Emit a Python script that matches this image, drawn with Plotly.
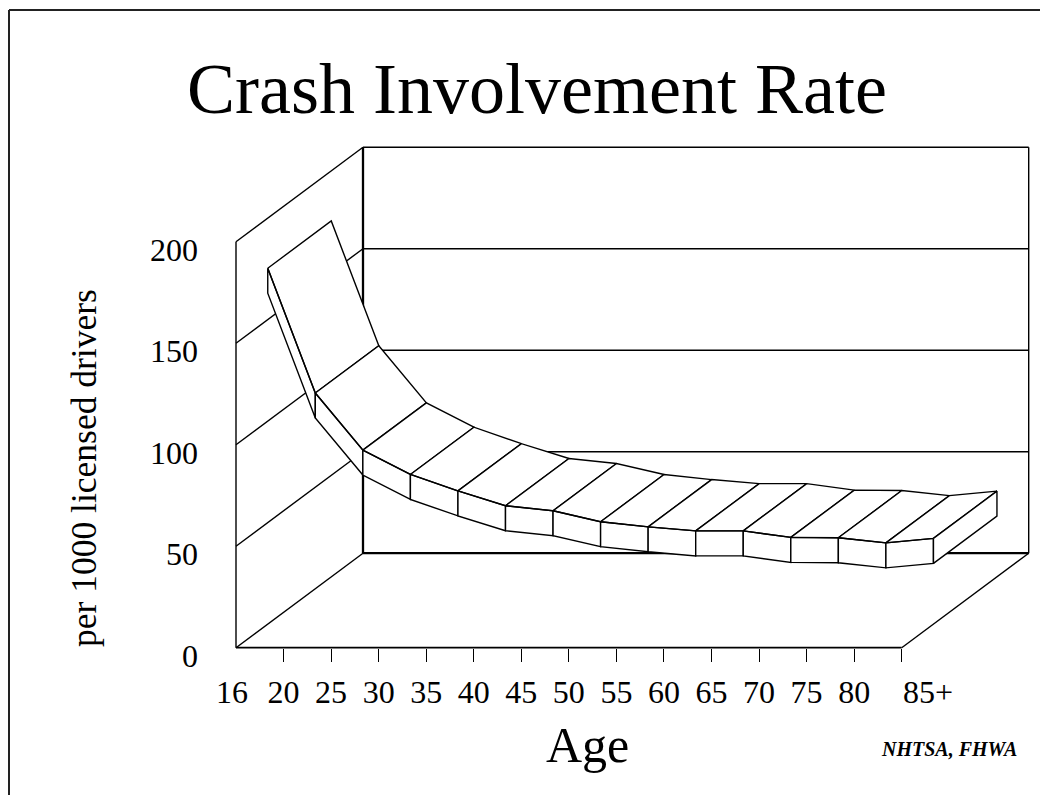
import plotly.graph_objects as go

# ---------------- data ----------------
ages = ["16", "20", "25", "30", "35", "40", "45", "50", "55", "60", "65", "70", "75", "80", "85+"]
rates = [175.3, 113.8, 85.7, 73.7, 65.6, 58.3, 55.8, 50.4, 47.9, 45.9, 45.9, 42.7, 42.5, 40.0, 42.2]
y_ticks = [0, 50, 100, 150, 200]
y_max = 200

# ---------------- geometry / style ----------------
W, H = 1048, 795
OFF = 8                       # page offset of the figure inside the html body
X0, XSTEP = 236.0 - OFF, 47.55   # figure pixel of first category, pixels per category
Y0, YSCALE = 647.7 - OFF, 2.03   # figure pixel of value 0, pixels per value unit
DEPTH_PX = (127.0, 94.5)      # oblique offset of the back wall (px right, px up)
RIB_FRONT, RIB_BACK = 0.25, 0.75   # depth fractions of the ribbon
RIB_THICK = 12.3                   # ribbon front-face height (value units)
FONT = "Liberation Serif, Times New Roman, serif"
LW = 1.4

xr = [-X0 / XSTEP, (W - X0) / XSTEP]
yr = [-(H - Y0) / YSCALE, Y0 / YSCALE]
DX = DEPTH_PX[0] / XSTEP
DY = DEPTH_PX[1] / YSCALE
n = len(ages) - 1


def paper_x(page_px):
    return (page_px - OFF) / W


def paper_y(page_py):
    return 1 - (page_py - OFF) / H


def proj(i, v, f):
    return i + f * DX, v + f * DY


def add_segments(xs, ys, pts):
    for p in pts:
        x, y = proj(*p)
        xs.append(x)
        ys.append(y)
    xs.append(None)
    ys.append(None)


fig = go.Figure()

# ---- walls and gridlines ----
wx, wy = [], []
add_segments(wx, wy, [(0, 0, 0), (0, y_max, 0)])
for v in y_ticks:
    add_segments(wx, wy, [(0, v, 0), (0, v, 1)])
for v in y_ticks[1:]:
    add_segments(wx, wy, [(0, v, 1), (n, v, 1)])
add_segments(wx, wy, [(n, 0, 1), (n, y_max, 1)])
add_segments(wx, wy, [(n, 0, 0), (n, 0, 1)])
fig.add_trace(go.Scatter(x=wx, y=wy, mode="lines", line=dict(color="black", width=LW),
                         hoverinfo="skip", showlegend=False))

tx, ty = [], []
add_segments(tx, ty, [(0, 0, 1), (0, y_max, 1)])
add_segments(tx, ty, [(0, 0, 1), (n, 0, 1)])
fig.add_trace(go.Scatter(x=tx, y=ty, mode="lines", line=dict(color="black", width=2.3),
                         hoverinfo="skip", showlegend=False))

# front floor edge (on the tick axis)
fx, fy = [], []
add_segments(fx, fy, [(0, 0, 0), (n, 0, 0)])
fig.add_trace(go.Scatter(x=fx, y=fy, mode="lines", line=dict(color="black", width=1.7),
                         xaxis="x2", hoverinfo="skip", showlegend=False))

# ---- ribbon ----
for k in range(n):
    a, b = rates[k], rates[k + 1]
    rx, ry = [], []
    # top face
    add_segments(rx, ry, [(k, a, RIB_FRONT), (k + 1, b, RIB_FRONT), (k + 1, b, RIB_BACK),
                          (k, a, RIB_BACK), (k, a, RIB_FRONT)])
    # front face
    add_segments(rx, ry, [(k, a, RIB_FRONT), (k + 1, b, RIB_FRONT), (k + 1, b - RIB_THICK, RIB_FRONT),
                          (k, a - RIB_THICK, RIB_FRONT), (k, a, RIB_FRONT)])
    fig.add_trace(go.Scatter(x=rx[:-1], y=ry[:-1], mode="lines", fill="toself", fillcolor="white",
                             line=dict(color="black", width=LW), hoverinfo="skip", showlegend=False))

# right end cap
c = rates[n]
ex, ey = [], []
add_segments(ex, ey, [(n, c, RIB_FRONT), (n, c, RIB_BACK), (n, c - RIB_THICK, RIB_BACK),
                      (n, c - RIB_THICK, RIB_FRONT), (n, c, RIB_FRONT)])
fig.add_trace(go.Scatter(x=ex[:-1], y=ey[:-1], mode="lines", fill="toself", fillcolor="white",
                         line=dict(color="black", width=LW), hoverinfo="skip", showlegend=False))

axis_pos_y = (H - Y0) / H
axis_pos_x = X0 / W

fig.update_layout(
    width=W, height=H,
    margin=dict(l=0, r=0, t=0, b=0, pad=0),
    paper_bgcolor="white", plot_bgcolor="white",
    showlegend=False,
    font=dict(family=FONT, color="black"),
    title=dict(text="Crash Involvement Rate", x=paper_x(529 + OFF), xanchor="center",
               y=paper_y(79.5 + OFF), yanchor="middle", yref="container",
               font=dict(family=FONT, size=72, color="black")),
    xaxis=dict(range=xr, anchor="free", position=axis_pos_y, showgrid=False, zeroline=False,
               showline=False, ticks="", tickmode="array", tickvals=list(range(n)),
               ticktext=["16\u00a0"] + ages[1:n],
               tickangle=0,
               tickfont=dict(family=FONT, size=32, color="black"), ticklabelstandoff=22),
    xaxis2=dict(range=xr, overlaying="x", anchor="free", position=axis_pos_y, showgrid=False,
                zeroline=False, showline=False, ticks="outside", ticklen=13, tickwidth=1.4,
                tickcolor="black", tickmode="array", tickvals=list(range(1, len(ages))),
                showticklabels=False),
    yaxis=dict(range=yr, anchor="free", position=axis_pos_x, showgrid=False, zeroline=False,
               showline=False, ticks="", tickmode="array", tickvals=y_ticks,
               tickfont=dict(family=FONT, size=32, color="black"),
               ticklabelstandoff=38, ticklabelshift=8),
    annotations=[
        dict(text=ages[n], x=n, xref="x", y=paper_y(692), yref="paper", xshift=26,
             showarrow=False, xanchor="center", yanchor="middle",
             font=dict(family=FONT, size=32, color="black")),
        dict(text="per 1000 licensed drivers", x=paper_x(76 + OFF), y=paper_y(460 + OFF),
             xref="paper", yref="paper",
             textangle=-90, showarrow=False, xanchor="center", yanchor="middle",
             font=dict(family=FONT, size=35.5, color="black")),
        dict(text="Age", x=paper_x(579 + OFF), y=paper_y(737 + OFF), xref="paper", yref="paper",
             showarrow=False, xanchor="center", yanchor="middle",
             font=dict(family=FONT, size=50, color="black")),
        dict(text="<b><i>NHTSA, FHWA</i></b>", x=paper_x(940.5 + OFF), y=paper_y(741 + OFF),
             xref="paper", yref="paper",
             showarrow=False, xanchor="center", yanchor="middle",
             font=dict(family=FONT, size=20, color="black")),
    ],
    shapes=[
        dict(type="line", xref="paper", yref="paper", x0=1 / W, x1=1, y0=1 - 2 / H, y1=1 - 2 / H,
             line=dict(color="#222222", width=2)),
        dict(type="line", xref="paper", yref="paper", x0=1 / W, x1=1 / W, y0=0, y1=1 - 2 / H,
             line=dict(color="#222222", width=2)),
    ],
)

fig.write_html("out.html")
